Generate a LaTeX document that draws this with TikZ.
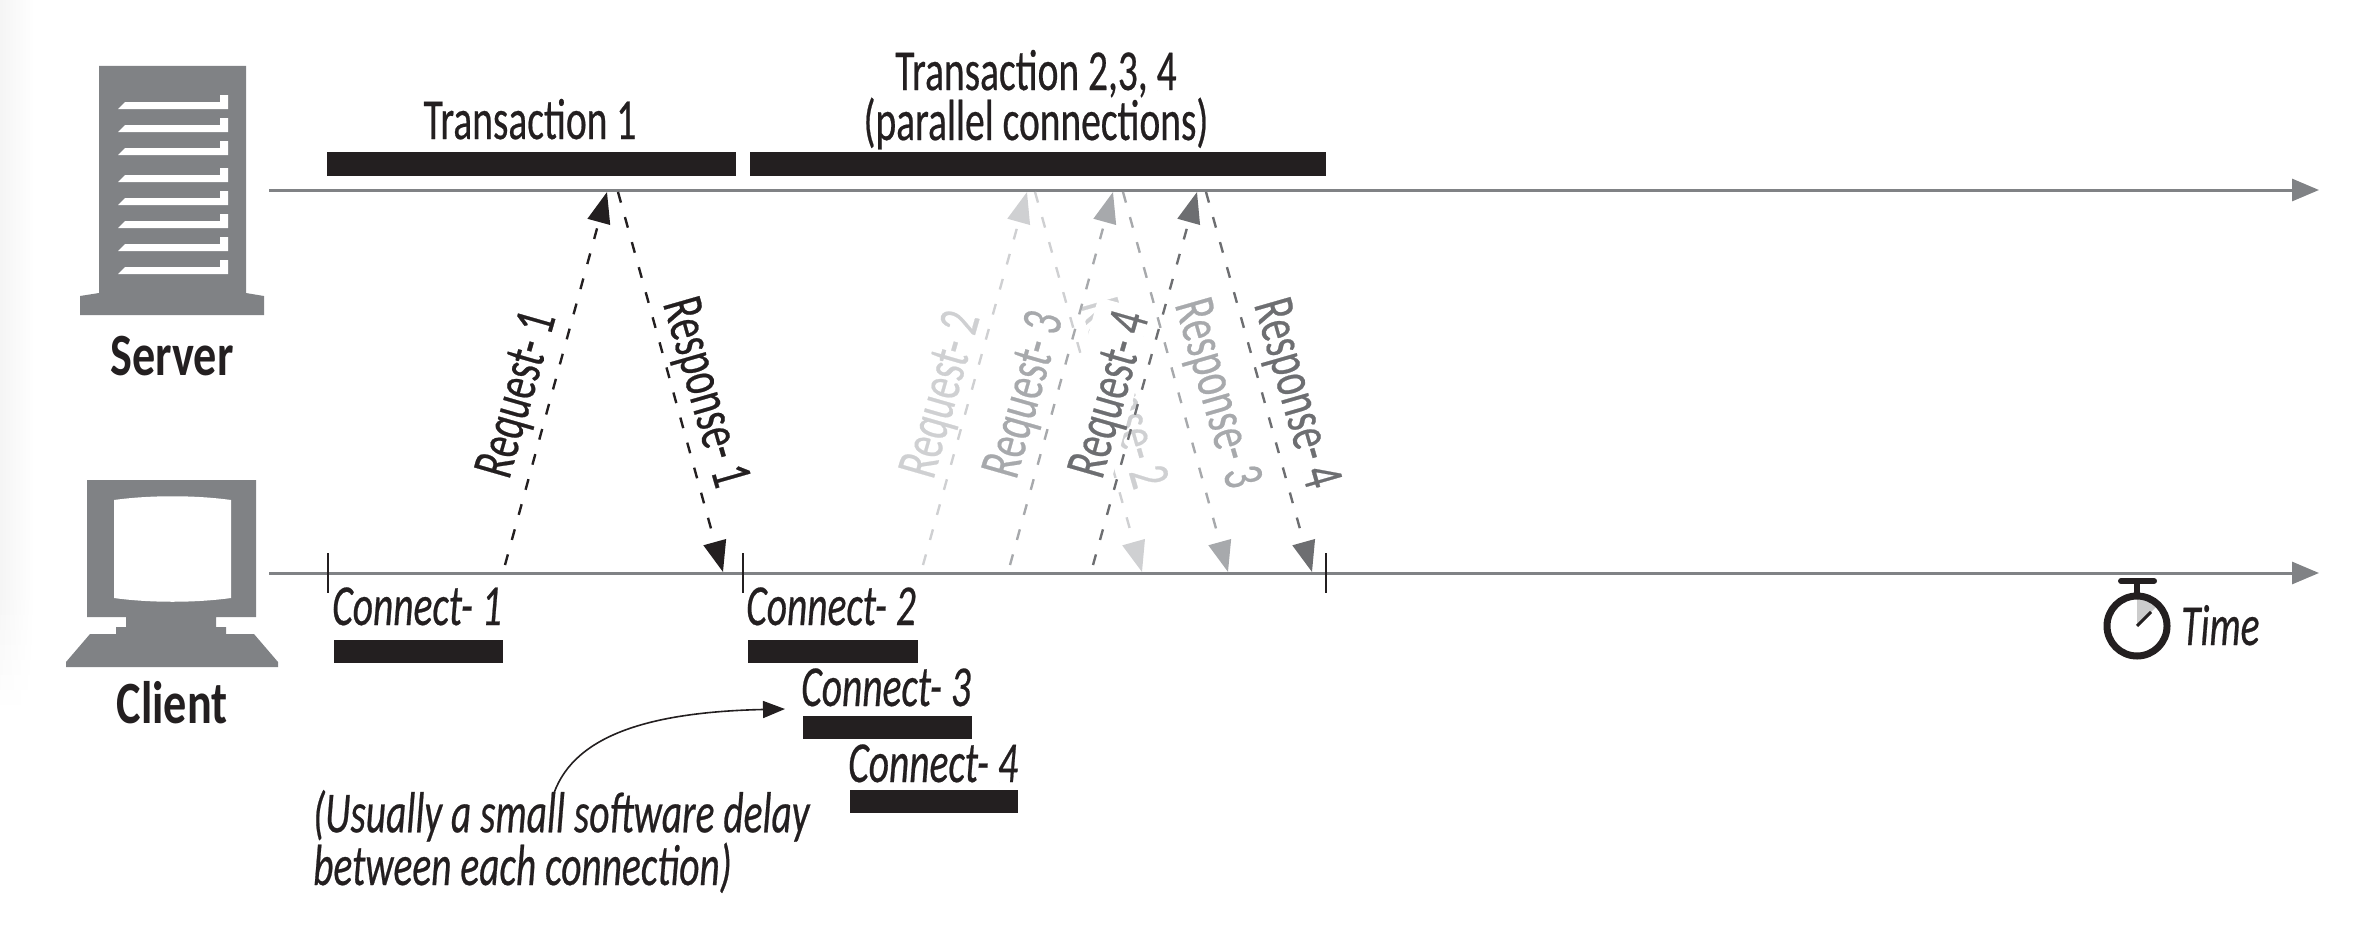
\documentclass[tikz,border=0pt]{standalone}
\usepackage{fontspec}
\usetikzlibrary{arrows.meta,calc}
\newfontfamily\condf[FakeStretch=0.68,FakeBold=0.4]{Carlito}
\newfontfamily\condb[FakeStretch=0.77]{Carlito}
\definecolor{ink}{HTML}{231F20}
\definecolor{icon}{HTML}{808285}
\definecolor{shadeA}{HTML}{CFD0D2}
\definecolor{shadeB}{HTML}{A7A9AC}
\definecolor{shadeC}{HTML}{6D6E71}
\tikzset{
  axis/.style={draw=icon,line width=3pt,-{Triangle[length=27pt,width=22pt,fill=icon]},shorten >=0pt},
  tick/.style={draw=ink,line width=2.4pt},
  bar/.style={fill=ink,draw=none,inner sep=0pt,minimum height=24pt,anchor=north west},
  msg/.style={line width=2.4pt,dash pattern=on 11pt off 15pt},
  lab/.style={font=\condf\fontsize{58}{50}\selectfont,text=ink,inner sep=0pt},
  ilab/.style={font=\condf\itshape\fontsize{58}{50}\selectfont,text=ink,inner sep=0pt,anchor=base west},
  blab/.style={font=\condb\bfseries\fontsize{60}{60}\selectfont,text=ink,inner sep=0pt,anchor=base},
  rot/.style={font=\condf\fontsize{58}{58}\selectfont,inner sep=0pt,anchor=center},
}
\newcommand{\slot}[1]{\fill[white] (118,#1) -- (125,#1-7) -- (220,#1-7) -- (220,#1-14) -- (228,#1-14) -- (228,#1) -- cycle;}
\begin{document}
\begin{tikzpicture}[x=1pt,y=-1pt]
\useasboundingbox (0,0) rectangle (2376,934);
\shade[left color=black!4,right color=white] (0,0) rectangle (34,600);
\foreach \k in {0,...,7}{
  \pgfmathsetmacro{\ya}{600+15*\k}
  \pgfmathsetmacro{\yb}{615+15*\k}
  \pgfmathsetmacro{\pct}{3.5-0.5*\k}
  \shade[left color=black!\pct,right color=white] (0,\ya) rectangle (34,\yb);
}
% server icon
\fill[icon] (99,66) -- (246,66) -- (246,293) -- (264,296) -- (264,315) -- (80,315) -- (80,296) -- (99,293) -- cycle;
\foreach \b in {109,132,155,182,205,228,251,274}{\slot{\b}}
\node[blab] (server) at (172,375) {Server};
% client icon
\fill[icon] (87,480) -- (256,480) -- (256,617) -- (216,617) -- (216,627) -- (226,627) -- (226,634) -- (254,634) -- (278,662) -- (278,667) -- (66,667) -- (66,662) -- (90,634) -- (116,634) -- (116,627) -- (126,627) -- (126,617) -- (87,617) -- cycle;
\fill[white] (114,500) .. controls (150,495) and (195,495) .. (231,500) -- (231,598) .. controls (195,603) and (150,603) .. (114,598) -- cycle;
\node[blab] (client) at (172,723) {Client};
% axes
\coordinate (sa) at (269,190); \coordinate (sb) at (2319,190);
\coordinate (ca) at (269,573); \coordinate (cb) at (2319,573);
\draw[axis] (sa) -- (sb);
\draw[axis] (ca) -- (cb);
% ticks
\coordinate (t1a) at (328,553); \coordinate (t1b) at (328,593);
\coordinate (t2a) at (743,553); \coordinate (t2b) at (743,593);
\coordinate (t3a) at (1326,553); \coordinate (t3b) at (1326,593);
\draw[tick] (t1a) -- (t1b);
\draw[tick] (t2a) -- (t2b);
\draw[tick] (t3a) -- (t3b);
% transaction bars
\node[bar,minimum width=409pt] (tb1) at (327,152) {};
\node[bar,minimum width=576pt] (tb2) at (750,152) {};
\node[lab,anchor=base] (tl1) at (530,139) {Transaction 1};
\node[lab,anchor=base,align=center] (tl2) at (1036,140) {Transaction 2,3, 4\\(parallel connections)};
% connect bars
\node[bar,minimum width=169pt,minimum height=23pt] (cb1) at (334,640) {};
\node[bar,minimum width=170pt,minimum height=23pt] (cb2) at (748,640) {};
\node[bar,minimum width=169pt,minimum height=23pt] (cb3) at (803,716) {};
\node[bar,minimum width=168pt,minimum height=23pt] (cb4) at (850,790) {};
\node[ilab] (cl1) at (332,625) {Connect- 1};
\node[ilab] (cl2) at (746,625) {Connect- 2};
\node[ilab] (cl3) at (801,706) {Connect- 3};
\node[ilab] (cl4) at (848,782) {Connect- 4};
\node[ilab,align=left] (note) at (313,885) {(Usually a small software delay\\between each connection)};
\coordinate (na) at (554,793); \coordinate (nb) at (785,709);
\draw[ink,line width=1.6pt,-{Triangle[length=22pt,width=17pt]}] (na) .. controls (575,735) and (650,712) .. (nb);
% lightest exchange
\coordinate (q2a) at (923,565); \coordinate (q2b) at (1027,192);
\coordinate (p2a) at (1035,192); \coordinate (p2b) at (1142,572);
\draw[msg,shadeA,-{Triangle[length=31pt,width=23pt,fill=shadeA]}] (q2a) -- (q2b);
\draw[msg,shadeA,-{Triangle[length=31pt,width=23pt,fill=shadeA]}] (p2a) -- (p2b);
\node[rot,text=shadeA,rotate=74] (ql2) at (943,395) {Request- 2};
\node[rot,text=shadeA,rotate=-74] (pl2) at (1121,394) {Response- 2};
% white patch behind Request-4
\fill[white,rotate around={75:(1104,392)}] (1104-105,392-30) rectangle (1104+90,392+30);
% request/response 3
\coordinate (q3a) at (1010,565); \coordinate (q3b) at (1113,192);
\coordinate (p3a) at (1123,192); \coordinate (p3b) at (1228,572);
\draw[msg,shadeB,-{Triangle[length=31pt,width=23pt,fill=shadeB]}] (q3a) -- (q3b);
\draw[msg,shadeB,-{Triangle[length=31pt,width=23pt,fill=shadeB]}] (p3a) -- (p3b);
\node[rot,text=shadeB,rotate=74] (ql3) at (1026,395) {Request- 3};
\node[rot,text=shadeB,rotate=-74] (pl3) at (1215,394) {Response- 3};
% request/response 4
\coordinate (q4a) at (1093,565); \coordinate (q4b) at (1197,192);
\coordinate (p4a) at (1206,192); \coordinate (p4b) at (1312,572);
\draw[msg,shadeC,-{Triangle[length=31pt,width=23pt,fill=shadeC]}] (q4a) -- (q4b);
\draw[msg,shadeC,-{Triangle[length=31pt,width=23pt,fill=shadeC]}] (p4a) -- (p4b);
\node[rot,text=shadeC,rotate=74] (ql4) at (1112,395) {Request- 4};
\node[rot,text=shadeC,rotate=-74] (pl4) at (1294,394) {Response- 4};
% request/response 1
\coordinate (q1a) at (505,565); \coordinate (q1b) at (607,192);
\coordinate (p1a) at (618,192); \coordinate (p1b) at (723,572);
\draw[msg,ink,-{Triangle[length=31pt,width=23pt,fill=ink]}] (q1a) -- (q1b);
\draw[msg,ink,-{Triangle[length=31pt,width=23pt,fill=ink]}] (p1a) -- (p1b);
\node[rot,text=ink,rotate=74] (ql1) at (519,395) {Request- 1};
\node[rot,text=ink,rotate=-74] (pl1) at (703,393) {Response- 1};
% stopwatch
\coordinate (w) at (2137,626);
\fill[black!20] (w) -- (2137,599) arc[start angle=90,end angle=45,radius=27pt] -- cycle;
\draw[ink,line width=7pt] (w) circle[radius=30pt];
\draw[ink,line width=6pt] (2137,581) -- (2137,596);
\draw[ink,line width=6pt,line cap=round] (2121,581) -- (2154,581);
\draw[ink,line width=3pt] (w) -- (2151,612);
\node[ilab] (timel) at (2181,645) {Time};
\end{tikzpicture}
\end{document}
